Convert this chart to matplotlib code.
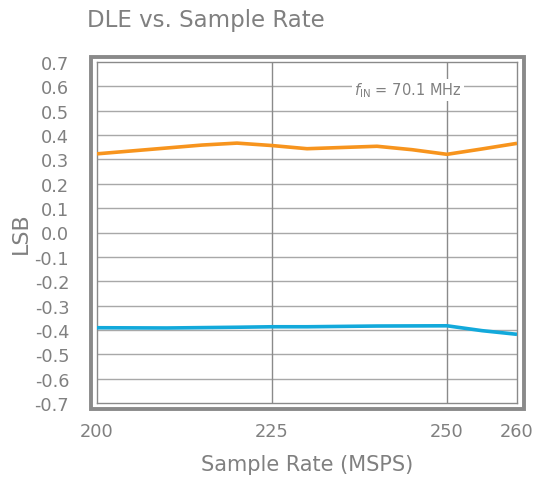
import matplotlib
matplotlib.use("Agg")
import matplotlib.pyplot as plt
from matplotlib.patches import Rectangle

# sample rate (MSPS)
rate_pos = [200, 205, 210, 215, 220, 225, 230, 235, 240, 245, 250, 255, 260]
dle_pos = [0.323, 0.335, 0.347, 0.359, 0.367, 0.357, 0.344, 0.349, 0.354, 0.340, 0.321, 0.343, 0.366]

rate_neg = [200, 210, 220, 225, 230, 240, 250, 255, 260]
dle_neg = [-0.391, -0.392, -0.389, -0.387, -0.387, -0.384, -0.383, -0.403, -0.418]

xticks = [200, 225, 250, 260]
yticks = [round(-0.7 + 0.1 * i, 1) for i in range(15)]

GRAY = "#808080"
plt.rcParams["font.family"] = "DejaVu Sans"
plt.rcParams["mathtext.fontset"] = "dejavusans"

fig = plt.figure(figsize=(5.34, 4.81), dpi=100)
W, H = 534, 481
ax = fig.add_axes([97 / W, 1 - 404 / H, 420 / W, 341 / H])

ax.plot(rate_pos, dle_pos, color="#F7941D", lw=2.6, solid_capstyle="butt", zorder=3)
ax.plot(rate_neg, dle_neg, color="#12A9DB", lw=2.6, solid_capstyle="butt", zorder=3)

ax.set_xlim(200, 260)
ax.set_ylim(-0.7, 0.7)
ax.set_xticks(xticks)
ax.set_yticks(yticks)
ax.set_yticklabels([f"{v:.1f}" for v in yticks])
ax.tick_params(length=0, labelsize=12.8, labelcolor=GRAY)
ax.tick_params(axis="y", pad=20)
ax.tick_params(axis="x", pad=14)

for y in yticks[1:-1]:
    ax.axhline(y, color="#a8a8a8", lw=1, zorder=1)
for x in [225, 250]:
    ax.axvline(x, color="#8a8a8a", lw=1, zorder=1)

for s in ax.spines.values():
    s.set_color("#8a8a8a")
    s.set_linewidth(1)

# outer thick frame
fig.patches.append(Rectangle((91 / W, 1 - 409.5 / H), (524 - 91) / W, (409.5 - 58) / H,
                             transform=fig.transFigure, fill=False,
                             edgecolor="#8a8a8a", lw=2.8))

ax.set_xlabel("Sample Rate (MSPS)", fontsize=15, color=GRAY, labelpad=10)
fig.text(20.5 / W, 1 - 233.5 / H, "LSB", fontsize=16, color=GRAY,
         rotation=90, ha="center", va="center")

fig.text(87 / W, 1 - 20 / H, "DLE vs. Sample Rate", fontsize=16.5, color=GRAY,
         ha="left", va="center")

ax.text(244.4, 0.585, r"$f_{\mathrm{IN}}$ = 70.1 MHz", fontsize=10.5, color=GRAY,
        ha="center", va="center", zorder=4,
        bbox=dict(facecolor="white", edgecolor="none", pad=1.5))

fig.savefig("out.png", dpi=100)
